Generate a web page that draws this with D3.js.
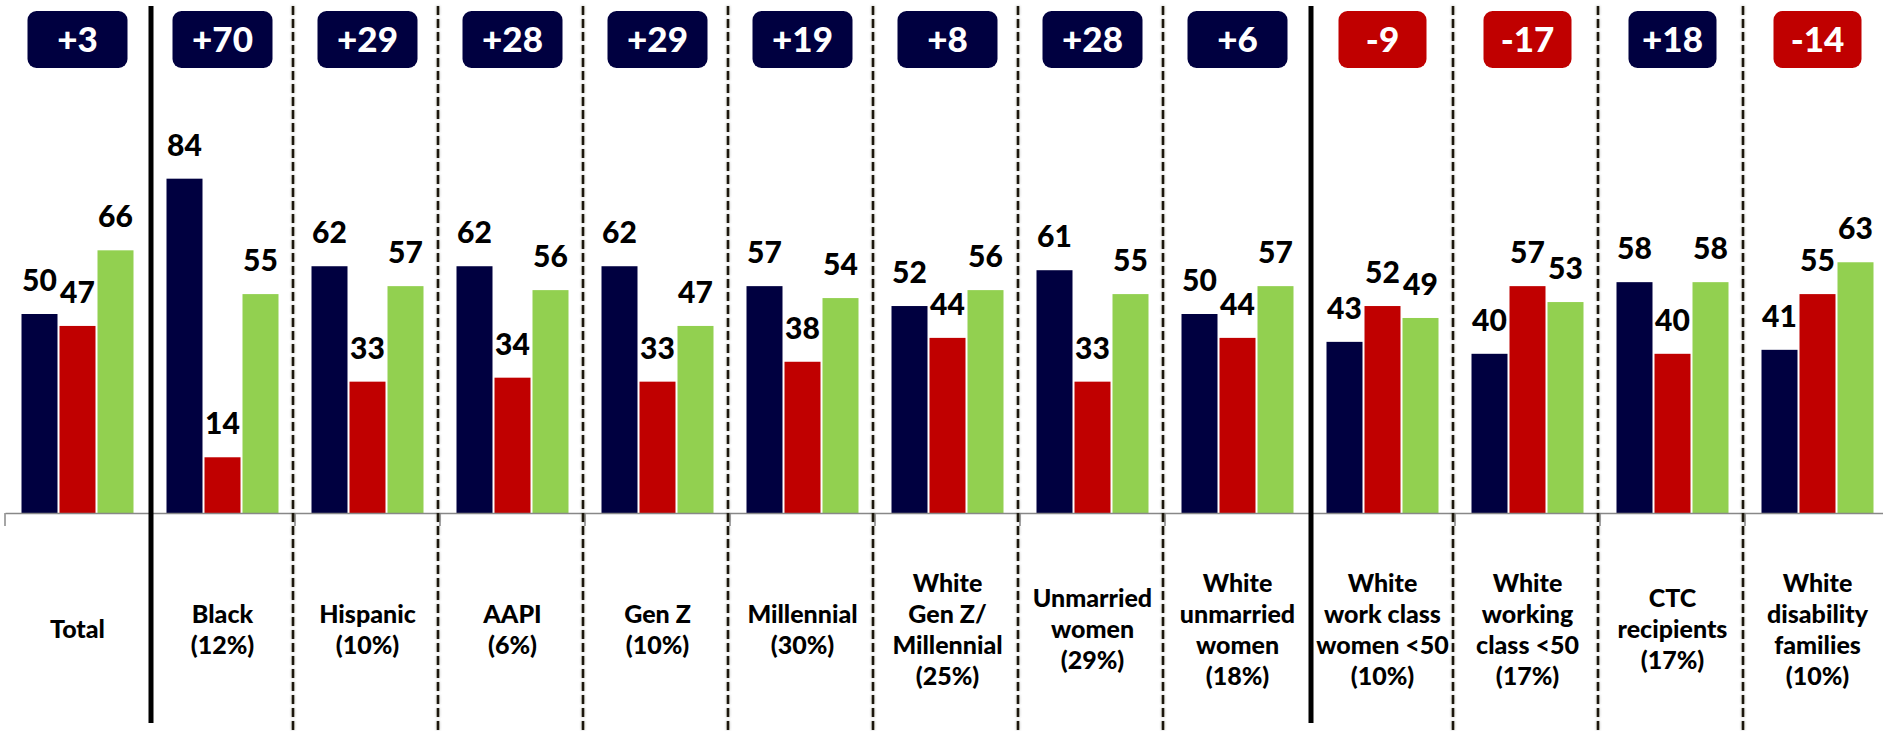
<!DOCTYPE html>
<html>
<head>
<meta charset="utf-8">
<script src="https://cdn.jsdelivr.net/npm/d3@7"></script>
<style>
  html, body { margin: 0; padding: 0; background: #fff; }
  svg { display: block; font-family: Lato, "Open Sans", sans-serif; }
</style>
</head>
<body>
<svg id="chart" width="1883" height="731"></svg>
<script>
// ---- data ----
const categories = [
  "Total", "Black (12%)", "Hispanic (10%)", "AAPI (6%)", "Gen Z (10%)",
  "Millennial (30%)", "White Gen Z/ Millennial (25%)", "Unmarried women (29%)",
  "White unmarried women (18%)", "White work class women <50 (10%)",
  "White working class <50 (17%)", "CTC recipients (17%)", "White disability families (10%)"
];
const categoryLines = [
  ["Total"],
  ["Black", "(12%)"],
  ["Hispanic", "(10%)"],
  ["AAPI", "(6%)"],
  ["Gen Z", "(10%)"],
  ["Millennial", "(30%)"],
  ["White", "Gen Z/", "Millennial", "(25%)"],
  ["Unmarried", "women", "(29%)"],
  ["White", "unmarried", "women", "(18%)"],
  ["White", "work class", "women <50", "(10%)"],
  ["White", "working", "class <50", "(17%)"],
  ["CTC", "recipients", "(17%)"],
  ["White", "disability", "families", "(10%)"]
];
const seriesNames = ["navy", "red", "green"];
const navyValues  = [50, 84, 62, 62, 62, 57, 52, 61, 50, 43, 40, 58, 41];
const redValues   = [47, 14, 33, 34, 33, 38, 44, 33, 44, 52, 57, 40, 55];
const greenValues = [66, 55, 57, 56, 47, 54, 56, 55, 57, 49, 53, 58, 63];
const deltaValues = [3, 70, 29, 28, 29, 19, 8, 28, 6, -9, -17, 18, -14];
const solidDividersAfter = ["Total", "White unmarried women (18%)"];

// ---- styles ----
const colors = { navy: "#000040", red: "#c00000", green: "#92d050" };
const svg = d3.select("#chart");

const x0 = d3.scaleBand().domain(categories).range([5, 1890]).padding(0);
const bw = x0.bandwidth();
const groupW = 112;
const x1 = d3.scaleBand().domain(seriesNames)
  .range([(bw - groupW) / 2, (bw + groupW) / 2]).paddingInner(0.0526).paddingOuter(0);
const y = d3.scaleLinear().domain([0, 100]).range([513, 115]);

const seriesValues = { navy: navyValues, red: redValues, green: greenValues };

// soft shadow filter for dashed lines
const defs = svg.append("defs");
const f = defs.append("filter").attr("id", "sh").attr("filterUnits", "userSpaceOnUse")
  .attr("x", 0).attr("y", 0).attr("width", 1883).attr("height", 731);
f.append("feGaussianBlur").attr("in", "SourceAlpha").attr("stdDeviation", 1.6).attr("result", "b");
f.append("feComponentTransfer").attr("in", "b").attr("result", "o2")
  .append("feFuncA").attr("type", "linear").attr("slope", 0.3);
const m = f.append("feMerge");
m.append("feMergeNode").attr("in", "o2");
m.append("feMergeNode").attr("in", "SourceGraphic");

// ---- bars ----
const groups = svg.append("g").selectAll("g.grp").data(categories).join("g")
  .attr("class", "grp")
  .attr("transform", d => `translate(${x0(d)},0)`);

groups.each(function(cat, i) {
  const g = d3.select(this);
  seriesNames.forEach(s => {
    const v = seriesValues[s][i];
    g.append("rect")
      .attr("x", x1(s)).attr("width", x1.bandwidth())
      .attr("y", y(v)).attr("height", y(0) - y(v))
      .attr("fill", colors[s]);
  });
  seriesNames.forEach(s => {
    const v = seriesValues[s][i];
    g.append("text")
      .attr("x", x1(s) + x1.bandwidth() / 2)
      .attr("y", y(v) - 23)
      .attr("text-anchor", "middle")
      .attr("font-size", 30).attr("font-weight", 900).attr("fill", "#000")
      .text(v);
  });
});

// ---- axis ----
const axis = d3.axisBottom(x0).tickSize(0).tickSizeOuter(0).tickFormat("");
const ax = svg.append("g").attr("transform", `translate(0,${y(0)})`).call(axis);
ax.select(".domain").attr("stroke", "#888").attr("stroke-width", 1.5);
const boundaries = categories.map(c => x0(c)).concat([x0.range()[1]]);
svg.append("g").selectAll("line").data(boundaries).join("line")
  .attr("x1", d => d).attr("x2", d => d)
  .attr("y1", y(0)).attr("y2", y(0) + 13)
  .attr("stroke", "#888").attr("stroke-width", 1.5);

// ---- dividers ----
const divs = categories.slice(1).map((c, i) => ({ x: x0(c), solid: solidDividersAfter.includes(categories[i]) }));
svg.append("g").attr("filter", "url(#sh)").selectAll("line").data(divs.filter(d => !d.solid)).join("line")
  .attr("x1", d => d.x - 2).attr("x2", d => d.x - 2)
  .attr("y1", 6).attr("y2", 731)
  .attr("stroke", "#1e140c").attr("stroke-width", 2.6)
  .attr("stroke-dasharray", "9,4");
svg.append("g").selectAll("line").data(divs.filter(d => d.solid)).join("line")
  .attr("x1", d => d.x + 1).attr("x2", d => d.x + 1)
  .attr("y1", 6).attr("y2", 723)
  .attr("stroke", "#000").attr("stroke-width", 5);

// ---- delta boxes ----
const boxes = svg.append("g").selectAll("g").data(categories).join("g")
  .attr("transform", d => `translate(${x0(d) + bw / 2},0)`);
boxes.each(function(cat, i) {
  const g = d3.select(this);
  const v = deltaValues[i];
  const w = i >= 9 ? 88 : 100;
  g.append("rect")
    .attr("x", -w / 2).attr("y", 11).attr("width", w).attr("height", 57)
    .attr("rx", 9).attr("ry", 9)
    .attr("fill", v < 0 ? colors.red : colors.navy);
  g.append("text")
    .attr("x", 0).attr("y", 52)
    .attr("text-anchor", "middle")
    .attr("font-size", 35).attr("font-weight", 900).attr("fill", "#fff")
    .text((v > 0 ? "+" : "") + v);
});

// ---- category labels ----
const lh = 31;
const labels = svg.append("g").selectAll("text").data(categories).join("text")
  .attr("text-anchor", "middle")
  .attr("font-size", 25).attr("font-weight", 900).attr("fill", "#000")
  .attr("x", d => x0(d) + bw / 2);
labels.each(function(cat, i) {
  const lines = categoryLines[i];
  const first = 629 - (lines.length - 1) * lh / 2 + 9;
  d3.select(this).selectAll("tspan").data(lines).join("tspan")
    .attr("x", x0(cat) + bw / 2)
    .attr("y", (d, k) => first + k * lh)
    .text(d => d);
});
</script>
</body>
</html>
